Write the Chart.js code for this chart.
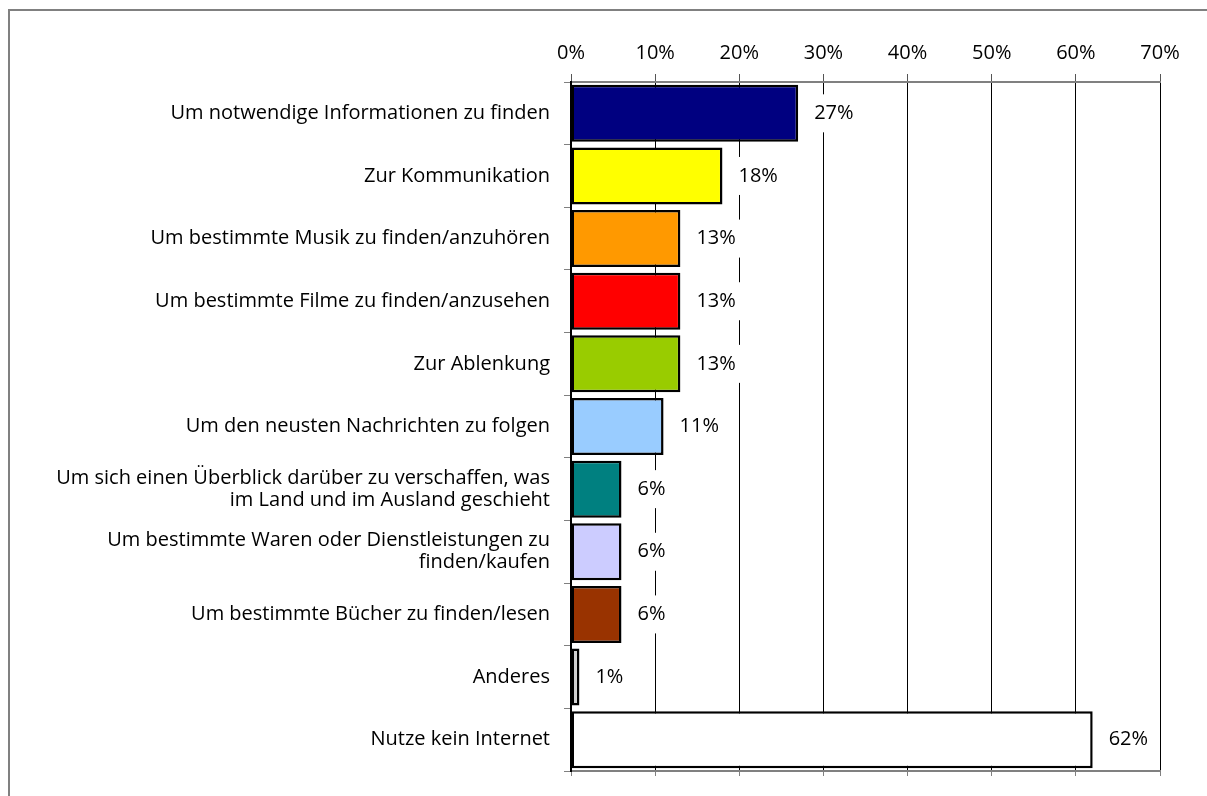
<!DOCTYPE html>
<html>
<head>
<meta charset="utf-8">
<script src="https://cdn.jsdelivr.net/npm/chart.js@4/dist/chart.umd.min.js"></script>
<style>
html, body { margin: 0; padding: 0; background: #fff; }
#wrap { position: relative; width: 1207px; height: 796px; overflow: hidden; }
#frame { position: absolute; left: 8px; top: 9px; width: 1300px; height: 900px; border-left: 2px solid #808080; border-top: 2px solid #808080; }
#c { position: absolute; left: 0; top: 0; }
</style>
</head>
<body>
<div id="wrap">
  <div id="frame"></div>
  <canvas id="c" width="1207" height="796"></canvas>
</div>
<script>
var categories = [
    'Um notwendige Informationen zu finden',
    'Zur Kommunikation',
    'Um bestimmte Musik zu finden/anzuhören',
    'Um bestimmte Filme zu finden/anzusehen',
    'Zur Ablenkung',
    'Um den neusten Nachrichten zu folgen',
    ['Um sich einen Überblick darüber zu verschaffen, was', 'im Land und im Ausland geschieht'],
    ['Um bestimmte Waren oder Dienstleistungen zu', 'finden/kaufen'],
    'Um bestimmte Bücher zu finden/lesen',
    'Anderes',
    'Nutze kein Internet'
];
var values = [27, 18, 13, 13, 13, 11, 6, 6, 6, 1, 62];
var barColors = ['#000080', '#FFFF00', '#FF9900', '#FF0000', '#99CC00', '#99CCFF', '#008080', '#CCCCFF', '#993300', '#D0D0D0', '#FFFFFF'];
var xMin = 0, xMax = 70, xStep = 10;

var FONT = 'Open Sans';
var FSIZE = 20;

// value labels with white box, drawn over the grid
var valueLabels = {
    id: 'valueLabels',
    afterDatasetsDraw: function(chart) {
        var ctx = chart.ctx;
        var meta = chart.getDatasetMeta(0);
        ctx.save();
        ctx.font = FSIZE + 'px "' + FONT + '"';
        ctx.textBaseline = 'middle';
        ctx.textAlign = 'left';
        meta.data.forEach(function(bar, i) {
            var txt = values[i] + '%';
            var x = bar.x + 16;
            var w = ctx.measureText(txt).width;
            ctx.fillStyle = '#fff';
            ctx.fillRect(x - 8, bar.y - 19, w + 18, 38);
            ctx.fillStyle = '#000';
            ctx.fillText(txt, x, bar.y);
        });
        ctx.restore();
    }
};

var ctx = document.getElementById('c').getContext('2d');
var chart = new Chart(ctx, {
    type: 'bar',
    data: {
        labels: categories,
        datasets: [{
            data: values,
            backgroundColor: barColors,
            borderColor: '#000',
            borderWidth: 2.5,
            borderSkipped: false,
            barPercentage: 0.91,
            categoryPercentage: 1
        }]
    },
    options: {
        indexAxis: 'y',
        responsive: false,
        animation: false,
        layout: { padding: { left: 0, right: 47, top: 0, bottom: 0 } },
        plugins: { legend: { display: false }, tooltip: { enabled: false } },
        scales: {
            x: {
                position: 'top',
                min: xMin, max: xMax,
                afterFit: function(s) { s.height = 82; },
                ticks: {
                    stepSize: xStep,
                    color: '#000',
                    padding: 9,
                    font: { family: FONT, size: FSIZE },
                    callback: function(v) { return v + '%'; }
                },
                grid: { color: '#000', lineWidth: 1, tickLength: 8, tickColor: '#555' },
                border: { color: '#808080', width: 2 }
            },
            x2: {
                position: 'bottom',
                min: xMin, max: xMax,
                afterFit: function(s) { s.height = 23; },
                ticks: { stepSize: xStep, display: false },
                grid: { drawOnChartArea: false, tickLength: 5, tickColor: '#808080' },
                border: { color: '#808080', width: 2 }
            },
            y: {
                afterFit: function(s) { s.width = 571; },
                ticks: {
                    color: '#000',
                    padding: 14,
                    font: { family: FONT, size: FSIZE, lineHeight: 1.1 }
                },
                grid: { offset: true, drawOnChartArea: false, tickLength: 7, tickColor: '#808080' },
                border: { color: '#000', width: 2 }
            }
        }
    },
    plugins: [valueLabels]
});
</script>
</body>
</html>
